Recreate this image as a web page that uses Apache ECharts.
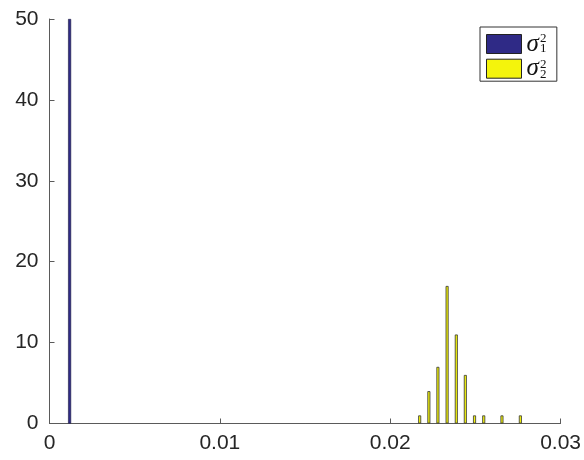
<!DOCTYPE html>
<html>
<head>
<meta charset="utf-8">
<script src="https://cdn.jsdelivr.net/npm/echarts@6/dist/echarts.min.js"></script>
<style>html,body{margin:0;padding:0;background:#fff}#c{width:584px;height:460px}</style>
</head>
<body>
<div id="c"></div>
<script>
// Data
var seriesNames = ['sigma1', 'sigma2'];
var sigma1X = [0.00118];
var sigma1Counts = [50];
var sigma2X = [0.02173, 0.02227, 0.02280, 0.02334, 0.02388, 0.02441, 0.02495, 0.02549, 0.02656, 0.02764];
var sigma2Counts = [1, 4, 7, 17, 11, 6, 1, 1, 1, 1];
var xTicks = [0, 0.01, 0.02, 0.03];
var yTicks = [0, 10, 20, 30, 40, 50];
var subscripts = ['1', '2'];

function pairs(xs, ys) { return xs.map(function (x, i) { return [x, ys[i]]; }); }

var chart = echarts.init(document.getElementById('c'));
var axisColor = '#5a5a5a';
var textColor = '#262626';
var graphics = [];
subscripts.forEach(function (s, i) {
  var rowTop = 32 + i * 25.7;
  graphics.push({ type: 'text', z: 100, left: 540, top: rowTop, style: { text: '2', font: '13px "Liberation Serif"', fill: '#111' } });
  graphics.push({ type: 'text', z: 100, left: 540, top: rowTop + 10.5, style: { text: s, font: '13px "Liberation Serif"', fill: '#111' } });
});

chart.setOption({
  animation: false,
  grid: { left: 49.5, right: 22.3, top: 19, bottom: 36.5 },
  xAxis: {
    type: 'value', min: xTicks[0], max: xTicks[xTicks.length - 1], interval: 0.01,
    axisLine: { show: true, lineStyle: { color: axisColor, width: 1 } },
    axisTick: { show: true, inside: true, length: 5, lineStyle: { color: axisColor } },
    splitLine: { show: false },
    axisLabel: { color: textColor, fontSize: 21, fontFamily: 'Liberation Sans', margin: 9,
      formatter: function (v) { return v === 0 ? '0' : String(+v.toFixed(2)); } }
  },
  yAxis: {
    type: 'value', min: yTicks[0], max: yTicks[yTicks.length - 1], interval: 10,
    axisLine: { show: true, lineStyle: { color: axisColor, width: 1 } },
    axisTick: { show: true, inside: true, length: 5, lineStyle: { color: axisColor } },
    splitLine: { show: false },
    axisLabel: { color: textColor, fontSize: 21, fontFamily: 'Liberation Sans', margin: 11 }
  },
  legend: {
    orient: 'vertical', left: 480, top: 27,
    padding: [4.5, 6, 0, 6], itemGap: -0.3, itemWidth: 35, itemHeight: 19,
    backgroundColor: '#fff', borderColor: '#333', borderWidth: 1, borderRadius: 0,
    icon: 'rect',
    itemStyle: { borderColor: '#222', borderWidth: 1 },
    data: seriesNames,
    formatter: function () { return '{s|σ}{g|}'; },
    textStyle: {
      lineHeight: 19,
      rich: {
        s: { fontFamily: 'Liberation Serif', fontStyle: 'italic', fontSize: 25, lineHeight: 19, color: '#111' },
        g: { width: 12, lineHeight: 19 }
      }
    }
  },
  graphic: graphics,
  series: [
    { name: seriesNames[0], type: 'bar', barWidth: 3, barGap: '-100%',
      itemStyle: { color: '#2F2A86', borderColor: '#1a1a40', borderWidth: 0.6 },
      data: pairs(sigma1X, sigma1Counts) },
    { name: seriesNames[1], type: 'bar', barWidth: 3, barGap: '-100%',
      itemStyle: { color: '#F4F40C', borderColor: '#333', borderWidth: 0.8 },
      data: pairs(sigma2X, sigma2Counts) }
  ]
});
</script>
</body>
</html>
